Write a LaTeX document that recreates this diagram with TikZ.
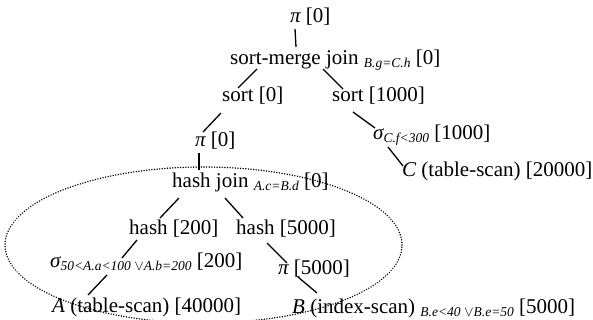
\documentclass[tikz,border=0pt]{standalone}
\usepackage{fontspec}
\setmainfont{Liberation Serif}
\newcommand{\qsub}[1]{\raisebox{-3pt}{\fontsize{13.5}{14}\selectfont\itshape #1}}
\newcommand{\gk}[1]{{\itshape #1}}
\begin{document}
\begin{tikzpicture}[x=1pt,y=1pt,
  lbl/.style={anchor=base west,inner sep=0pt,font=\fontsize{21}{24}\selectfont},
  edge/.style={line width=1.3pt},
  group/.style={line width=1.6pt,dash pattern=on 0.01pt off 2.6pt,line cap=round}]
\useasboundingbox (0,0) rectangle (593,-320);
\node[lbl] (pitop) at (290,-23) {\gk{π} [0]};
\node[lbl] (smj) at (230,-65) {sort-merge join \qsub{B.g=C.h} [0]};
\node[lbl] (sortA) at (222,-102) {sort [0]};
\node[lbl] (sortB) at (332,-102) {sort [1000]};
\node[lbl] (pimid) at (195,-147) {\gk{π} [0]};
\node[lbl] (sigC) at (373,-140) {\gk{σ}\qsub{C.f<300} [1000]};
\node[lbl] (hj) at (172,-187) {hash join \qsub{A.c=B.d} [0]};
\node[lbl] (C) at (402,-177) {\gk{C} (table-scan) [20000]};
\node[lbl] (h200) at (129,-234) {hash [200]};
\node[lbl] (h5000) at (236,-234) {hash [5000]};
\node[lbl] (sigA) at (50,-267) {\gk{σ}\qsub{50<A.a<100 $\vee$A.b=200} [200]};
\node[lbl] (pi5000) at (278,-274) {\gk{π} [5000]};
\node[lbl] (A) at (52,-312) {\gk{A} (table-scan) [40000]};
\node[lbl] (B) at (292,-313) {\gk{B} (index-scan) \qsub{B.e<40 $\vee$B.e=50} [5000]};
\draw[edge] ([shift={(5,-6)}]pitop.base west) -- ([shift={(66,18)}]smj.base west);
\draw[edge] ([shift={(27,-4)}]smj.base west) -- ([shift={(16,14)}]sortA.base west);
\draw[edge] ([shift={(93,-4)}]smj.base west) -- ([shift={(11,13)}]sortB.base west);
\draw[edge] ([shift={(-1,-11)}]sortA.base west) -- ([shift={(8,15)}]pimid.base west);
\draw[edge] ([shift={(4,-6)}]pimid.base west) -- ([shift={(27,17)}]hj.base west);
\draw[edge] ([shift={(21,-10)}]sortB.base west) -- ([shift={(2,12)}]sigC.base west);
\draw[edge] ([shift={(15,-7)}]sigC.base west) -- ([shift={(1,11)}]C.base west);
\draw[edge] ([shift={(7,-11)}]hj.base west) -- ([shift={(31,16)}]h200.base west);
\draw[edge] ([shift={(53,-11)}]hj.base west) -- ([shift={(7,16)}]h5000.base west);
\draw[edge] ([shift={(8,-6)}]h200.base west) -- ([shift={(72,9)}]sigA.base west);
\draw[edge] ([shift={(31,-9)}]h5000.base west) -- ([shift={(9,11)}]pi5000.base west);
\draw[edge] ([shift={(57,-8)}]sigA.base west) -- ([shift={(36,17)}]A.base west);
\draw[edge] ([shift={(20,-3)}]pi5000.base west) -- ([shift={(25,20)}]B.base west);
\draw[group] (203.5,-245) ellipse [x radius=198.5, y radius=78];
\end{tikzpicture}
\end{document}
